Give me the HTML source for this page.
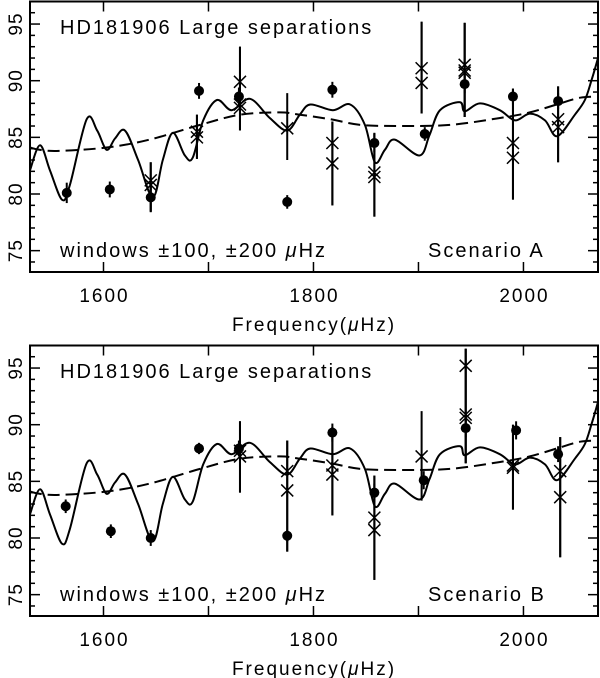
<!DOCTYPE html>
<html><head><meta charset="utf-8"><style>
html,body{margin:0;padding:0;background:#fff;}
svg{display:block;font-family:"Liberation Sans","DejaVu Sans",sans-serif;}
</style></head><body>
<svg id="chart" width="600" height="678" viewBox="0 0 600 678" xmlns="http://www.w3.org/2000/svg"></svg>
<script>
// Model curves (shared by both panels)
const modelFreq=[1530,1539.5,1549,1560.5,1568,1584,1594,1603,1611,1620.5,1633,1647,1656.5,1666,1677.5,1685,1695,1708,1722,1739.5,1758.5,1775,1787,1797,1818.5,1835,1849,1858.5,1868,1877.5,1901,1910.5,1920.5,1939.5,1944,1958.5,1977.5,1992,2006,2020.5,2032,2049,2058.5,2065,2071];
const modelVal=[82.1,84.3,82.1,79.5,80.8,86.6,85.6,83.9,84.9,85.6,83.0,79.7,83.0,85.4,83.4,83.2,86.5,88.3,87.4,88.4,86.7,85.6,87.0,87.9,87.4,87.9,86.1,82.8,83.9,84.8,83.4,85.2,87.4,88.1,87.3,88.0,87.4,86.5,87.1,86.5,85.1,87.0,88.3,90.1,92.0];
const smoothFreq=[1530,1539,1558,1603,1644,1692,1730,1768,1787,1816,1845,1883,1930,1977,2006,2035,2054,2071];
const smoothVal=[84.1,83.9,83.8,84.1,84.8,86.1,87.0,87.2,87.0,86.6,86.1,86.0,86.1,86.7,87.2,88.0,88.5,88.6];
// Panel A
const aDotFreq=[1565,1606,1645,1691,1729,1775,1818,1858,1906,1944,1990,2033];
const aDotVal=[80.1,80.4,79.7,89.1,88.6,79.3,89.2,84.5,85.3,89.7,88.6,88.2];
const aDotErr=[0.9,0.7,1.2,0.7,0.8,0.6,0.7,0.8,0.6,0.8,0.7,0.7];
const aXFreq=[1645,1645,1689,1689,1730,1730,1730,1775,1818,1818,1858,1858,1903,1903,1944,1944,1944,1990,1990,2033,2033];
const aXVal=[81.2,80.8,85.5,85.0,89.9,87.9,87.6,85.8,84.5,82.7,81.9,81.5,91.1,89.8,91.4,90.9,90.7,84.5,83.2,86.6,85.9];
const aXLo=[78.4,78.4,83.1,83.1,85.6,85.6,85.6,83.0,79.0,79.0,78.0,78.0,87.1,87.1,86.8,86.8,86.8,79.5,79.5,82.8,82.8];
const aXHi=[82.8,82.8,87.0,87.0,93.0,93.0,93.0,88.9,86.4,86.4,85.4,85.4,95.2,95.2,95.1,95.1,95.1,89.3,89.3,89.5,89.5];
// Panel B
const bDotFreq=[1564,1607,1645,1691,1729,1775,1818,1858,1905,1945,1993,2033];
const bDotVal=[82.8,80.6,80.0,87.9,87.9,80.2,89.3,84.0,85.1,89.7,89.5,87.4];
const bDotErr=[0.6,0.6,0.7,0.5,0.7,0.5,0.8,0.8,0.8,0.8,0.8,0.7];
const bXFreq=[1730,1730,1775,1775,1818,1818,1858,1858,1903,1945,1945,1945,1990,1990,2035,2035];
const bXVal=[87.7,87.2,85.9,84.2,86.4,85.6,81.8,80.7,87.2,95.2,90.9,90.6,86.4,86.2,85.9,83.6];
const bXLo=[84.0,84.0,78.8,78.8,82.0,82.0,76.3,76.3,83.3,86.6,86.6,86.6,82.5,82.5,78.3,78.3];
const bXHi=[90.3,90.3,88.6,88.6,89.8,89.8,85.5,85.5,91.2,96.7,96.7,96.7,90.0,90.0,88.9,88.9];
const yTicks=[75,80,85,90,95];
const xTicks=[1600,1800,2000];

const NS='http://www.w3.org/2000/svg';
const svg=document.getElementById('chart');
const L=30,R=598,F0=1530,F1=2071;
function xs(f){return L+(f-F0)*(R-L)/(F1-F0);}
function mk(tag,attrs,parent){const e=document.createElementNS(NS,tag);for(const k in attrs)e.setAttribute(k,attrs[k]);(parent||svg).appendChild(e);return e;}
function smoothPath(p){
  let d=`M${p[0][0].toFixed(1)},${p[0][1].toFixed(1)}`;
  for(let i=0;i<p.length-1;i++){
    const p0=p[Math.max(0,i-1)],p1=p[i],p2=p[i+1],p3=p[Math.min(p.length-1,i+2)];
    const c1x=p1[0]+(p2[0]-p0[0])/6,c1y=p1[1]+(p2[1]-p0[1])/6;
    const c2x=p2[0]-(p3[0]-p1[0])/6,c2y=p2[1]-(p3[1]-p1[1])/6;
    d+=`C${c1x.toFixed(1)},${c1y.toFixed(1)} ${c2x.toFixed(1)},${c2y.toFixed(1)} ${p2[0].toFixed(1)},${p2[1].toFixed(1)}`;
  }
  return d;
}

function panel(off,name,dF,dV,dE,xF,xV,xLo,xHi,label){
  const top=1.5+off,bot=272+off;
  const ys=v=>off+194-(v-80)*11.33;
  const g=mk('g',{});
  
  
  const fr=mk('rect',{x:L,y:top,width:R-L,height:bot-top,fill:'none',stroke:'#000','stroke-width':2},g);
  
  
  for(let v=74;v<=97;v++){
    const y=ys(v);if(y<top||y>bot)continue;
    const len=(v%5===0)?10:5;
    mk('line',{x1:L,y1:y,x2:L+len,y2:y,stroke:'#000','stroke-width':1.5},g);
    mk('line',{x1:R-len,y1:y,x2:R,y2:y,stroke:'#000','stroke-width':1.5},g);
  }
  yTicks.forEach(v=>{
    const t=mk('text',{x:0,y:0,transform:`translate(22,${ys(v)}) rotate(-90)`,'text-anchor':'middle','font-size':19,'letter-spacing':1},g);
    t.textContent=v;
    
    
  });
  for(let f=1600;f<=2000;f+=100){
    const x=xs(f);
    mk('line',{x1:x,y1:bot,x2:x,y2:bot-10,stroke:'#000','stroke-width':1.5},g);
    mk('line',{x1:x,y1:top,x2:x,y2:top+10,stroke:'#000','stroke-width':1.5},g);
  }
  xTicks.forEach(f=>{
    const t=mk('text',{x:xs(f)+1,y:bot+30,'text-anchor':'middle','font-size':19,'letter-spacing':2},g);
    t.textContent=f;
    
    
  });
  const xt=mk('text',{x:314,y:bot+59,'text-anchor':'middle','font-size':19,'letter-spacing':2},g);
  xt.innerHTML='Frequency(<tspan font-style="italic">μ</tspan>Hz)';
  
  
  const t1=mk('text',{x:60,y:off+34,'font-size':20,'letter-spacing':2},g);
  t1.textContent='HD181906 Large separations';
  
  
  const t2=mk('text',{x:60,y:off+257,'font-size':20,'letter-spacing':2},g);
  t2.innerHTML='windows ±100, ±200 <tspan font-style="italic">μ</tspan>Hz';
  
  
  const t3=mk('text',{x:428,y:off+257,'font-size':20,'letter-spacing':2},g);
  t3.textContent=label;
  
  
  const cp=mk('clipPath',{id:'clip'+off},g);
  mk('rect',{x:L,y:top,width:R-L,height:bot-top},cp);
  const pts=modelFreq.map((f,i)=>[xs(f),ys(modelVal[i])]);
  const ml=mk('path',{d:smoothPath(pts),fill:'none',stroke:'#000','stroke-width':2,'stroke-linejoin':'round','clip-path':`url(#clip${off})`},g);
  
  
  const pts2=smoothFreq.map((f,i)=>[xs(f),ys(smoothVal[i])]);
  const dl=mk('path',{d:smoothPath(pts2),fill:'none',stroke:'#000','stroke-width':2,'stroke-dasharray':'12,6','clip-path':`url(#clip${off})`},g);
  
  
  xF.forEach((f,i)=>{
    const x=xs(f),y=ys(xV[i]);
    const e=mk('line',{x1:x,y1:ys(xLo[i]),x2:x,y2:ys(xHi[i]),stroke:'#000','stroke-width':2},g);
    
    
    const c=mk('path',{d:`M${x-6},${y-6}L${x+6},${y+6}M${x-6},${y+6}L${x+6},${y-6}`,stroke:'#000','stroke-width':1.5,fill:'none'},g);
    
    
  });
  dF.forEach((f,i)=>{
    const x=xs(f),y=ys(dV[i]);
    const e=mk('line',{x1:x,y1:ys(dV[i]-dE[i]),x2:x,y2:ys(dV[i]+dE[i]),stroke:'#000','stroke-width':2},g);
    
    
    const c=mk('circle',{cx:x,cy:y,r:5,fill:'#000'},g);
    
    
  });
}
panel(0,'panel-scenario-a',aDotFreq,aDotVal,aDotErr,aXFreq,aXVal,aXLo,aXHi,'Scenario A');
panel(344,'panel-scenario-b',bDotFreq,bDotVal,bDotErr,bXFreq,bXVal,bXLo,bXHi,'Scenario B');
</script>
</body></html>
